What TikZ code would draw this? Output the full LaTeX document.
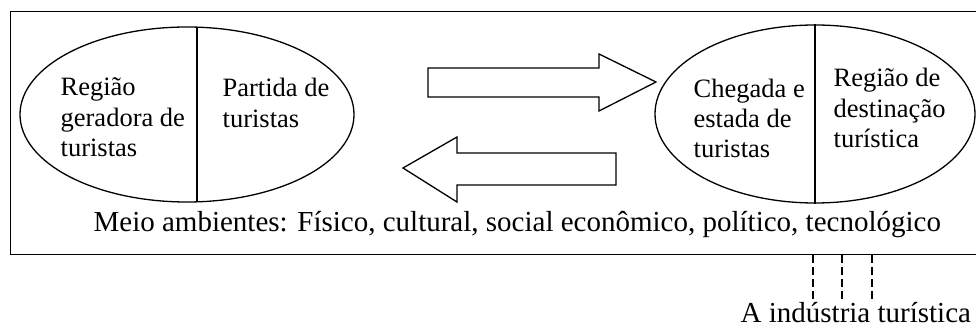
\documentclass[tikz,border=0pt]{standalone}
\usepackage{fontspec}
\setmainfont{Liberation Serif}
\usetikzlibrary{shapes.geometric,calc}
\begin{document}
\begin{tikzpicture}[x=1pt,y=-1pt,
  line width=1.3pt,
  region/.style={ellipse,draw,inner sep=0pt},
  lbl/.style={anchor=base west,align=left,inner sep=0pt,font=\fontsize{26.5}{30}\selectfont},
  biglbl/.style={anchor=base west,inner sep=0pt,font=\fontsize{29}{32}\selectfont},
  bigarrow/.style={draw,line width=1.3pt,line join=miter},
  dashline/.style={line width=1.5pt,dash pattern=on 8pt off 4pt}]
\useasboundingbox (0,0) rectangle (976,328);
\clip (0,0) rectangle (976,328);
\node[draw,line width=1.3pt,minimum width=980pt,minimum height=243pt,anchor=north west,inner sep=0pt] (box) at (10,11) {};
\node[region,minimum width=334pt,minimum height=175pt] (L) at (187,114.5) {};
\node[region,minimum width=320pt,minimum height=178pt] (R) at (815,114) {};
\draw ($(L.north)+(10,0.3)$) -- ($(L.south)+(10,-0.3)$);
\draw (R.north) -- (R.south);
% text
\node[lbl] (t1) at (60,96) {Região};
\node[lbl] (t2) at (60,127) {geradora de};
\node[lbl] (t3) at (60,157) {turistas};
\node[lbl] (t4) at (222,97) {Partida de};
\node[lbl] (t5) at (222,128) {turistas};
\node[lbl] (t6) at (693,98) {Chegada e};
\node[lbl] (t7) at (693,128) {estada de};
\node[lbl] (t8) at (693,158) {turistas};
\node[lbl] (t9) at (833,87) {Região de};
\node[lbl] (t10) at (833,118) {destinação};
\node[lbl] (t11) at (833,148) {turística};
\node[biglbl] (env) at (93,232) {Meio ambientes: Físico, cultural, social econômico, político, tecnológico};
\node[biglbl] (ind) at (740,323) {A indústria turística};
% arrows
\draw[bigarrow] (428,68) -- (599,68) -- (599,54) -- (656,82) -- (599,111) -- (599,97) -- (428,97) -- cycle;
\draw[bigarrow] (616,153) -- (457,153) -- (457,137) -- (403,168) -- (457,202) -- (457,185) -- (616,185) -- cycle;
% dashed lines
\coordinate (d1) at (813,300);
\coordinate (d2) at (842,300);
\coordinate (d3) at (872,300);
\draw[dashline] (box.south -| d1) -- (d1);
\draw[dashline] (box.south -| d2) -- (d2);
\draw[dashline] (box.south -| d3) -- (d3);
\end{tikzpicture}
\end{document}
